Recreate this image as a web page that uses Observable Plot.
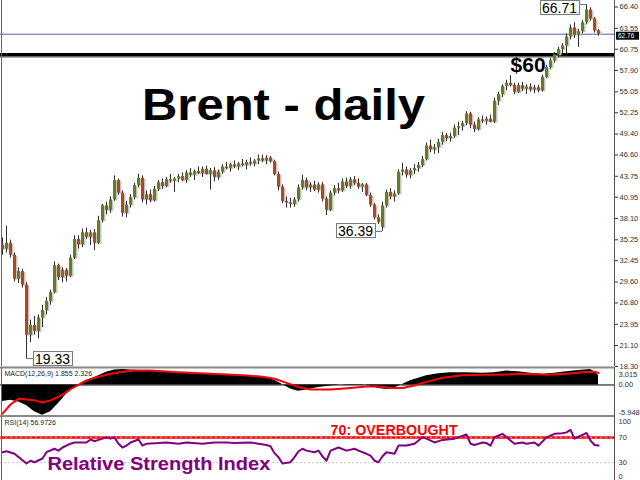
<!DOCTYPE html>
<html><head><meta charset="utf-8">
<script src="https://cdn.jsdelivr.net/npm/d3@7"></script>
<script src="https://cdn.jsdelivr.net/npm/@observablehq/plot@0.6"></script>
<style>
body{margin:0;background:#fff;}
#chart{position:relative;width:640px;height:480px;overflow:hidden;background:#fff;}
#chart svg{position:absolute;left:0;}
</style></head><body><div id="chart"></div>
<script>
// ---- data (daily candles) ----
const open = [34.5,34.0,34.8,33.2,30.0,31.0,29.2,22.5,23.8,23.0, 24.8,25.8,27.0,28.2,31.8,30.2,31.2,30.4,32.8,35.3, 34.6,36.2,35.6,36.2,34.8,37.8,39.8,39.2,40.6,43.2, 41.5,38.8,39.9,40.9,42.5,43.5,40.6,41.3,40.5,42.0, 42.9,42.4,43.3,43.1,43.4,43.7,43.2,44.2,43.9,44.4, 44.1,44.7,44.0,44.5,43.6,44.3,45.0,44.8,45.3,45.0, 45.4,45.2,45.6,45.4,45.8,46.1,45.8,46.2,45.7,44.0, 42.3,40.4,40.2,40.0,40.6,42.2,43.2,42.2,42.6,41.9, 42.6,40.7,39.2,41.5,42.1,41.8,43.0,42.4,43.3,42.8, 42.3,42.6,41.2,39.9,38.2,36.9,39.8,41.6,41.0,41.4, 44.3,44.6,43.9,44.5,44.8,45.2,46.0,47.8,47.3,47.6, 48.3,49.2,48.8,49.1,50.2,50.4,50.8,52.1,50.6,50.0, 51.3,51.1,51.4,51.0,53.8,54.7,55.8,56.2,55.9,55.0, 55.9,55.4,55.7,55.3,55.6,55.2,57.0,58.3,59.2,60.0, 60.7,61.2,62.4,63.6,62.6,63.1,64.3,66.0,64.8,63.2];
const high = [35.5,37.1,35.2,33.5,31.5,31.3,29.5,24.5,25.0,25.2, 26.5,27.5,28.5,32.3,32.0,31.5,31.4,33.2,35.8,35.8, 36.7,36.8,36.5,36.6,38.4,40.0,40.3,41.0,43.8,43.4, 41.8,40.4,41.3,42.8,44.0,43.8,41.8,41.9,42.4,43.2, 43.4,43.6,44.0,43.6,44.0,44.2,44.5,44.8,44.6,45.0, 45.0,45.1,44.8,44.9,44.6,45.3,45.6,45.5,45.8,45.6, 46.0,45.9,46.2,46.0,46.6,46.6,46.5,46.4,45.9,44.3, 42.6,41.0,40.8,40.9,42.6,43.9,43.5,42.9,43.1,42.9, 42.9,41.0,41.8,42.5,42.8,43.4,43.5,43.6,43.7,43.4, 42.8,42.8,41.5,40.1,38.6,40.3,41.9,42.1,41.8,44.6, 45.5,45.0,44.8,45.3,45.6,46.4,48.2,48.6,48.0,48.7, 49.6,49.5,49.5,50.6,51.0,51.1,52.4,52.3,51.0,51.6, 51.8,51.7,51.9,54.2,55.0,56.0,56.6,57.2,56.2,56.2, 56.3,56.0,56.1,55.9,55.9,57.3,58.6,59.5,60.3,61.0, 61.5,62.8,64.0,64.3,63.4,64.6,66.71,66.3,65.0,63.4];
const low = [33.2,33.5,32.8,29.6,29.4,28.8,19.33,21.5,22.5,22.0, 23.5,25.2,26.5,28.0,29.8,29.5,29.6,30.2,32.6,34.0, 34.2,35.3,34.5,33.8,34.6,37.5,38.6,38.8,40.4,41.2, 38.3,38.2,39.5,40.6,42.2,40.2,39.9,40.2,40.3,41.7, 42.0,42.2,42.8,41.6,42.9,43.0,42.8,43.6,43.2,44.0, 43.6,43.9,41.9,43.0,43.2,44.0,44.6,44.3,44.8,44.5, 45.0,44.6,45.1,45.0,45.3,45.6,45.3,45.5,43.8,41.8, 40.1,39.5,39.5,39.6,40.3,41.9,41.8,41.6,41.7,41.5, 40.3,38.5,39.0,41.1,41.4,41.6,42.1,42.0,42.5,42.0, 41.6,41.0,39.6,37.9,37.3,36.39,39.5,40.6,40.3,41.2, 43.8,43.5,43.4,44.0,44.3,44.9,45.8,46.9,46.7,46.8, 47.9,48.4,48.3,48.8,49.2,49.8,50.5,50.1,49.6,49.8, 50.8,50.6,50.9,50.8,53.2,54.3,55.2,55.7,54.7,54.8, 55.1,54.7,55.0,54.8,54.9,55.0,56.8,58.0,58.9,59.6, 60.2,60.0,62.0,62.2,61.0,62.8,64.0,64.5,62.9,62.5];
const close = [34.0,34.8,33.2,30.0,31.0,29.2,22.5,23.8,23.0,24.8, 25.8,27.0,28.2,31.8,30.2,31.2,30.4,32.8,35.3,34.6, 36.2,35.6,36.2,34.8,37.8,39.8,39.2,40.6,43.2,41.5, 38.8,39.9,40.9,42.5,43.5,40.6,41.3,40.5,42.0,42.9, 42.4,43.3,43.1,43.4,43.7,43.2,44.2,43.9,44.4,44.1, 44.7,44.0,44.5,43.6,44.3,45.0,44.8,45.3,45.0,45.4, 45.2,45.6,45.4,45.8,46.1,45.8,46.2,45.7,44.0,42.3, 40.4,40.2,40.0,40.6,42.2,43.2,42.2,42.6,41.9,42.6, 40.7,39.2,41.5,42.1,41.8,43.0,42.4,43.3,42.8,42.3, 42.6,41.2,39.9,38.2,37.6,39.8,41.6,41.0,41.4,44.3, 44.6,43.9,44.5,44.8,45.2,46.0,47.8,47.3,47.6,48.3, 49.2,48.8,49.1,50.2,50.4,50.8,52.1,50.6,50.0,51.3, 51.1,51.4,51.0,53.8,54.7,55.8,56.2,55.9,55.0,55.9, 55.4,55.7,55.3,55.6,55.2,57.0,58.3,59.2,60.0,60.7, 61.2,62.4,63.6,62.6,63.1,64.3,66.0,64.8,63.2,62.76];

const lastPrice = 62.76;
const keyLevel = 60;
const priceTicks = [66.40,63.55,60.75,57.90,55.05,52.25,49.40,46.60,43.75,40.95,38.10,35.25,32.45,29.60,26.80,23.95,21.10,18.30];
const extremeBars = [6, 95, 146];
const extremePrices = [19.33, 36.39, 66.71];
const extremeSides = ["right", "left", "left"];

// MACD(12,26,9): main histogram and signal line, sampled by bar
const macdBar = [0,2,4,6,8,10,12,14,16,18,20,22,24,26,28,30,32,36,42,50,57,62,66,68,70,72,74,76,79,82,86,90,92,94,96,98,100,102,104,106,109,112,116,120,123,126,129,132,135,138,141,144,147,148,149];
const macdMain = [-3.2,-3.0,-3.3,-4.0,-5.2,-5.9,-5.2,-3.6,-1.8,-0.5,0.5,1.1,1.8,2.5,2.9,3.0,2.9,2.7,2.4,2.1,1.9,1.7,1.4,0.9,0.1,-0.8,-1.2,-1.0,-0.5,-0.2,0.1,0.1,-0.2,-0.7,-0.9,-0.6,0.1,0.8,1.3,1.8,2.2,2.4,2.4,2.3,2.4,2.7,2.6,2.3,2.1,2.3,2.6,2.8,3.0,2.6,1.855];
const signalBar = [0,2,4,8,10,12,15,17,19,21,24,27,30,33,37,44,52,60,65,68,71,74,77,82,87,91,94,97,100,103,106,110,115,120,125,130,136,141,145,148,149];
const signalVal = [-5.6,-3.8,-2.7,-3.0,-3.4,-3.0,-1.9,-0.8,0.0,0.9,1.6,2.2,2.6,2.8,2.8,2.5,2.2,1.9,1.6,1.2,0.4,-0.4,-0.9,-0.9,-0.6,-0.3,-0.3,-0.6,-0.6,-0.1,0.6,1.4,1.9,2.0,2.0,2.2,2.0,2.2,2.5,2.6,2.326];
const macdRange = [-5.948, 3.015];

// RSI(14)
const rsiBar = [0,1,3,4,6,7,8,10,11,13, 14,15,17,18,21,22,23,24,26,27, 28,29,30,31,32,34,35,36,39,41, 44,46,50,53,56,58,62,64,66,67, 68,69,70,72,73,74,75,76,78,79, 80,81,82,84,86,88,89,91,92,93, 94,95,96,98,99,101,103,105,106,108, 110,113,116,117,118,120,121,122,123,125, 126,128,130,131,133,134,136,138,140,141, 142,143,144,145,146,147,148,149];
const rsiVal = [46.5,48,44,39,28.5,33,30.6,36.5,46.5,52, 49,54,60,62,62,66.6,64,66,70,68, 70,60,54,57,62,66.6,57,60,61,62, 60,62,60,62,62,61,62,60,58,56, 45,38.6,28.5,30.6,38.6,48,52,49,46.5,49, 40,33,49,54,49,52,49,44,41,33, 30.6,40,46.5,44,57,57,60,70.3,68,62, 66,68,74.6,60,58,62,61,57,70.3,75.7, 70.3,60,62,60,62,57,70,75.7,76.7,78, 82,68,71,74,77,65,58,56.97];
const rsiTicks = [100, 70, 30, 0];

const texts = {
  title: "Brent - daily", level: "$60",
  macd: "MACD(12,26,9) 1.855 2.326", rsi: "RSI(14) 56.9726",
  over: "70: OVERBOUGHT", rsiName: "Relative Strength Index"
};

// ---- build ----
const FONT = "'Liberation Sans', Arial, sans-serif";
const bars = open.map((o, i) => ({bar: i, open: o, high: high[i], low: low[i], close: close[i]}));
const up = bars.filter(d => d.close >= d.open);
const down = bars.filter(d => d.close < d.open);
const X_MIN = -0.5, X_MAX = 153;
const X = {domain: [X_MIN, X_MAX], axis: null};
const base = {width: 640, marginLeft: 0, marginRight: 26, marginTop: 0, marginBottom: 0,
  style: {fontFamily: FONT, background: "transparent", overflow: "visible"}};
const container = document.getElementById("chart");
const TICK_FS = 7.5, LABEL_FS = 7;

const main = Plot.plot({
  ...base, height: 367, marginBottom: 1,
  x: X,
  y: {domain: [18.3, 66.4], range: [366, 6.5], axis: null},
  marks: [
    Plot.ruleY([lastPrice], {stroke: "#5a5aaa", strokeWidth: 1}),
    Plot.ruleY([keyLevel], {stroke: "#aaaaaa", strokeWidth: 1.5, dy: 2.5}),
    Plot.ruleY([keyLevel], {stroke: "#000", strokeWidth: 3.5}),
    Plot.ruleX(bars, {x: "bar", y1: "open", y2: "close", stroke: "#c4c4c4", strokeWidth: 3, dx: 1.5, dy: 1}),
    Plot.ruleX(bars, {x: "bar", y1: "low", y2: "high", stroke: "#2e2e2e", strokeWidth: 1}),
    Plot.ruleX(up, {x: "bar", y1: "open", y2: "close", stroke: "#647d1f", strokeWidth: 3}),
    Plot.ruleX(down, {x: "bar", y1: "open", y2: "close", stroke: "#b2461c", strokeWidth: 3}),
    Plot.text([texts.title], {x: [70.25], y: [53.2], text: d => d, fontSize: 44, fontWeight: "bold", fill: "#000"}),
    Plot.text([texts.level], {x: [131.4], y: [58.5], text: d => d, fontSize: 20, fontWeight: "bold", fill: "#000"}),
    Plot.axisY({anchor: "right", ticks: priceTicks, tickFormat: d => d.toFixed(2), tickSize: 3, tickPadding: 2, fontSize: TICK_FS, color: "#333", label: null}),
    Plot.ruleX([X_MAX], {stroke: "#555"}),
    Plot.ruleX([X_MIN], {stroke: "#666", dx: 1}),
    Plot.ruleY([18.3], {stroke: "#888", strokeWidth: 2, dy: 1})
  ]
});
main.style.top = "0px";
container.appendChild(main);

const macdRows = macdBar.map((b, i) => ({bar: b, v: macdMain[i]}));
const signalRows = signalBar.map((b, i) => ({bar: b, v: signalVal[i]}));
const macd = Plot.plot({
  ...base, height: 49,
  x: X,
  y: {domain: macdRange, range: [48, 2], axis: null},
  marks: [
    Plot.areaY(macdRows, {x: "bar", y: "v", fill: "#000"}),
    Plot.ruleY([0], {stroke: "#000"}),
    Plot.line(signalRows, {x: "bar", y: "v", stroke: "#ff0000", strokeWidth: 2}),
    Plot.text([texts.macd], {frameAnchor: "top-left", text: d => d, dx: 4, dy: 4, lineAnchor: "top", textAnchor: "start", fontSize: LABEL_FS, fill: "#222"}),
    Plot.text([macdRange[1]], {frameAnchor: "top-right", text: d => d.toFixed(3), dx: 4, dy: 4, lineAnchor: "top", textAnchor: "start", fontSize: TICK_FS, fill: "#333"}),
    Plot.text([0], {x: [X_MAX], y: d => d, text: d => d.toFixed(2), dx: 4, textAnchor: "start", fontSize: TICK_FS, fill: "#333"}),
    Plot.text([macdRange[0]], {frameAnchor: "bottom-right", text: d => d.toFixed(3), dx: 4, dy: -2, lineAnchor: "bottom", textAnchor: "start", fontSize: TICK_FS, fill: "#333"}),
    Plot.ruleX([X_MAX], {stroke: "#555"}),
    Plot.ruleX([X_MIN], {stroke: "#666", dx: 1}),
    Plot.ruleY([macdRange[0]], {stroke: "#888", strokeWidth: 2, dy: 0.5})
  ]
});
macd.style.top = "367px";
container.appendChild(macd);

const rsiRows = rsiBar.map((b, i) => ({bar: b, v: rsiVal[i]}));
const rsi = Plot.plot({
  ...base, height: 64,
  x: X,
  y: {domain: [0, 100], range: [65, 2], axis: null},
  marks: [
    Plot.ruleY([30], {stroke: "#c8c8c8", strokeDasharray: "2,2"}),
    Plot.ruleY([70], {stroke: "#ff0000", strokeWidth: 2.5}),
    Plot.ruleY([70], {stroke: "#ff9a9a", strokeWidth: 1, strokeDasharray: "2,3"}),
    Plot.line(rsiRows, {x: "bar", y: "v", stroke: "#800080", strokeWidth: 2}),
    Plot.text([texts.rsi], {frameAnchor: "top-left", text: d => d, dx: 4, dy: 4, lineAnchor: "top", textAnchor: "start", fontSize: LABEL_FS, fill: "#222"}),
    Plot.text([texts.over], {x: [97.9], y: [81.7], text: d => d, fontSize: 14, fontWeight: "bold", fill: "#ff0000"}),
    Plot.text([texts.rsiName], {x: [39.1], y: [26.7], text: d => d, fontSize: 18, fontWeight: "bold", fill: "#800080"}),
    Plot.text([rsiTicks[0]], {frameAnchor: "top-right", text: d => String(d), dx: 4, dy: 2, lineAnchor: "top", textAnchor: "start", fontSize: TICK_FS, fill: "#333"}),
    Plot.text(rsiTicks.slice(1, 3), {x: () => X_MAX, y: d => d, text: d => String(d), dx: 4, textAnchor: "start", fontSize: TICK_FS, fill: "#333"}),
    Plot.text([rsiTicks[3]], {frameAnchor: "bottom-right", text: d => String(d), dx: 4, dy: -2, lineAnchor: "bottom", textAnchor: "start", fontSize: TICK_FS, fill: "#333"}),
    Plot.ruleX([X_MAX], {stroke: "#555"}),
    Plot.ruleX([X_MIN], {stroke: "#666", dx: 1})
  ]
});
rsi.style.top = "416px";
container.appendChild(rsi);

// stretch the big labels to the widths seen in the picture
const stretch = {[texts.title]: 283, [texts.level]: 35, [texts.over]: 127, [texts.rsiName]: 223};
d3.selectAll("#chart text").each(function () {
  const w = stretch[this.textContent];
  if (w) { this.setAttribute("textLength", w); this.setAttribute("lengthAdjust", "spacingAndGlyphs"); }
});

// boxed high / low labels and current price marker, placed with the plot's scales
const sx = main.scale("x"), sy = main.scale("y");
const g = d3.select(main).append("g").attr("font-family", FONT).attr("text-anchor", "start");
extremeBars.forEach((b, k) => {
  const p = extremePrices[k];
  const cx = sx.apply(b), cy = sy.apply(p);
  const bh = 15, gap = 7;
  const by = Math.max(0, Math.round(cy - bh / 2));
  const grp = g.append("g");
  const rect = grp.append("rect");
  const t = grp.append("text").text(p.toFixed(2)).attr("font-size", 14).attr("fill", "#000")
    .attr("text-anchor", "start").attr("dy", "0.36em").attr("y", by + bh / 2);
  const w = t.node().getComputedTextLength();
  const bw = Math.round(w + 4);
  const bx = Math.round(extremeSides[k] === "right" ? cx + gap : cx - gap - bw);
  t.attr("x", bx + 2);
  rect.attr("x", bx + 0.5).attr("y", by + 0.5).attr("width", bw).attr("height", bh - 1)
      .attr("fill", "#fff").attr("stroke", "#7a7a7a");
  const ex = extremeSides[k] === "right" ? bx : bx + bw;
  const ly = Math.round(Math.max(cy, by + 2)) + 0.5;
  grp.insert("line", "rect").attr("x1", cx).attr("x2", ex).attr("y1", ly).attr("y2", ly).attr("stroke", "#7a7a7a");
});
const py = sy.apply(lastPrice) + 2, ax = sx.apply(X_MAX);
g.append("rect").attr("x", ax + 2).attr("y", py - 4).attr("width", 23).attr("height", 8).attr("fill", "#000");
g.append("text").text(lastPrice.toFixed(2)).attr("x", ax + 4).attr("y", py).attr("dy", "0.35em")
  .attr("font-size", 6.5).attr("fill", "#fff").attr("text-anchor", "start");
</script>
</body></html>
